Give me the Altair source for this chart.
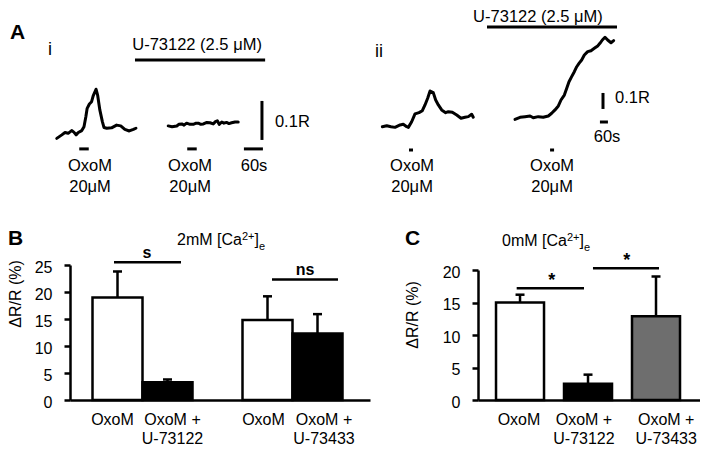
import altair as alt
import pandas as pd

FONT = "Liberation Sans"

# ---------------- Panel A(i): ratio traces (time s, ratio R) ----------------
ai_ctrl_t = [154, 170, 180, 190, 201, 208, 215, 222, 233, 240, 246, 250, 257, 264, 269, 278, 283, 290,
             298, 303, 312, 327, 343, 356, 369, 383, 396, 404]
ai_ctrl_r = [0.158, 0.167, 0.173, 0.171, 0.178, 0.174, 0.167, 0.173, 0.178, 0.188, 0.214, 0.235, 0.246,
             0.252, 0.267, 0.284, 0.269, 0.231, 0.201, 0.186, 0.184, 0.185, 0.192, 0.190, 0.181, 0.177,
             0.181, 0.184]
ai_drug_t = [506, 518, 533, 540, 549, 556, 564, 575, 585, 594, 601, 609, 617, 628, 638, 648, 655, 661,
             667, 675, 682, 690, 698, 706, 717, 727]
ai_drug_r = [0.190, 0.188, 0.190, 0.194, 0.195, 0.192, 0.197, 0.194, 0.194, 0.197, 0.197, 0.194, 0.195,
             0.199, 0.198, 0.195, 0.201, 0.203, 0.194, 0.200, 0.197, 0.199, 0.196, 0.198, 0.200, 0.200]

# ---------------- Panel A(ii) ----------------
aii_ctrl_t = [220, 253, 285, 315, 353, 377, 403, 415, 440, 465, 495, 520, 540, 560, 578, 602, 620, 640,
              665, 695, 715, 745, 778, 810, 840, 865, 890, 902]
aii_ctrl_r = [0.458, 0.464, 0.458, 0.454, 0.469, 0.473, 0.458, 0.454, 0.489, 0.538, 0.546, 0.558, 0.594,
              0.636, 0.681, 0.671, 0.625, 0.594, 0.563, 0.546, 0.552, 0.548, 0.531, 0.511, 0.517, 0.521,
              0.536, 0.517]
aii_drug_t = [1215, 1253, 1290, 1328, 1352, 1390, 1427, 1465, 1490, 1515, 1540, 1560, 1585, 1603, 1620,
              1640, 1660, 1678, 1695, 1715, 1735, 1760, 1785, 1810, 1835, 1852, 1870, 1890, 1910, 1935, 1955]
aii_drug_r = [0.504, 0.517, 0.521, 0.525, 0.514, 0.521, 0.517, 0.525, 0.542, 0.563, 0.588, 0.625, 0.656,
              0.698, 0.739, 0.771, 0.802, 0.833, 0.854, 0.875, 0.906, 0.927, 0.933, 0.948, 0.963, 0.979,
              1.0, 1.017, 1.0, 0.983, 0.996]

# ---------------- Panel B: 2 mM Ca ----------------
b_names = ["OxoM", "OxoM +\nU-73122", "OxoM", "OxoM +\nU-73433"]
b_pos = [1, 2, 4, 5]
b_label_x = [0.90, 2.10, 3.92, 5.13]
b_mean = [19.0, 3.3, 14.8, 12.3]
b_err = [4.8, 0.5, 4.4, 3.6]
b_fill = ["white", "black", "white", "black"]
b_ticks = [0, 5, 10, 15, 20, 25]

# ---------------- Panel C: 0 mM Ca ----------------
c_names = ["OxoM", "OxoM +\nU-73122", "OxoM +\nU-73433"]
c_pos = [1, 2, 3]
c_label_x = [0.985, 1.94, 3.15]
c_mean = [15.0, 2.5, 12.9]
c_err = [1.2, 1.4, 6.1]
c_fill = ["white", "black", "#6e6e6e"]
c_ticks = [0, 5, 10, 15, 20]

one = pd.DataFrame({"k": [0]})


def note(text, px, py, size=15, weight="normal", align="left", baseline="alphabetic", angle=None):
    kw = dict(text=text, fontSize=size, fontWeight=weight, align=align, baseline=baseline,
              color="black", font=FONT)
    if angle is not None:
        kw["angle"] = angle
    return alt.Chart(one).mark_text(**kw).encode(x=alt.value(px), y=alt.value(py))


def trace_panel(width, height, t_dom, r_dom, traces, hbars, vbars, labels_c, labels_l, letter):
    xs = alt.Scale(domain=t_dom, nice=False, zero=False)
    ys = alt.Scale(domain=r_dom, nice=False, zero=False)
    tr = pd.concat([pd.DataFrame({"t": t, "r": r, "trace": n}) for n, t, r in traces])
    lines = alt.Chart(tr).mark_line(color="black", strokeWidth=3, strokeJoin="round",
                                    strokeCap="round").encode(
        x=alt.X("t:Q", scale=xs, axis=None), y=alt.Y("r:Q", scale=ys, axis=None), detail="trace:N")
    hb = alt.Chart(pd.DataFrame(hbars, columns=["t0", "t1", "r"])).mark_rule(
        color="black", strokeWidth=3).encode(
        x=alt.X("t0:Q", scale=xs, axis=None), x2="t1:Q", y=alt.Y("r:Q", scale=ys, axis=None))
    vb = alt.Chart(pd.DataFrame(vbars, columns=["t", "r0", "r1"])).mark_rule(
        color="black", strokeWidth=3).encode(
        x=alt.X("t:Q", scale=xs, axis=None), y=alt.Y("r0:Q", scale=ys, axis=None), y2="r1:Q")
    lc = alt.Chart(pd.DataFrame(labels_c, columns=["t", "r", "txt", "size"])).mark_text(
        align="center", baseline="middle", color="black", font=FONT).encode(
        x=alt.X("t:Q", scale=xs, axis=None), y=alt.Y("r:Q", scale=ys, axis=None), text="txt:N",
        size=alt.Size("size:Q", scale=None))
    ll = alt.Chart(pd.DataFrame(labels_l, columns=["t", "r", "txt", "size"])).mark_text(
        align="left", baseline="middle", color="black", font=FONT).encode(
        x=alt.X("t:Q", scale=xs, axis=None), y=alt.Y("r:Q", scale=ys, axis=None), text="txt:N",
        size=alt.Size("size:Q", scale=None))
    layers = [lines, hb, vb, lc, ll]
    if letter is not None:
        lt = alt.Chart(pd.DataFrame([letter], columns=["t", "r", "txt"])).mark_text(
            align="left", baseline="middle", fontSize=21, fontWeight="bold", color="black",
            font=FONT).encode(x=alt.X("t:Q", scale=xs, axis=None),
                              y=alt.Y("r:Q", scale=ys, axis=None), text="txt:N")
        layers.append(lt)
    return alt.layer(*layers).properties(width=width, height=height)


# panel A(i): plot origin shares the left edge of panel B's plot (column alignment)
ai = trace_panel(
    283, 192, [195.8, 1089.5], [0, 0.4923],
    [("ctrl", ai_ctrl_t, ai_ctrl_r), ("drug", ai_drug_t, ai_drug_r)],
    [(225, 255, 0.131), (566, 596, 0.131), (745, 805, 0.131), (401, 812, 0.359)],
    [(802, 0.154, 0.254)],
    [(259, 0.0872, "OxoM", 16.5), (259, 0.0333, "20μM", 16.5), (575, 0.0872, "OxoM", 16.5),
     (575, 0.0333, "20μM", 16.5), (777, 0.0872, "60s", 16.5), (597, 0.397, "U-73122 (2.5 μM)", 16.5),
     (133, 0.385, "i", 18)],
    [(843, 0.199, "0.1R", 16.5)],
    (6, 0.428, "A"),
)

aii = trace_panel(
    346, 192, [0, 2595], [0, 1.2],
    [("ctrl", aii_ctrl_t, aii_ctrl_r), ("drug", aii_drug_t, aii_drug_r)],
    [(420, 450, 0.3125), (1478, 1508, 0.3125), (1852, 1912, 0.4875), (1005, 1980, 1.081)],
    [(1875, 0.569, 0.669)],
    [(443, 0.2125, "OxoM", 16.5), (443, 0.081, "20μM", 16.5), (1493, 0.2125, "OxoM", 16.5),
     (1493, 0.081, "20μM", 16.5), (1905, 0.394, "60s", 16.5), (1387, 1.145, "U-73122 (2.5 μM)", 16.5),
     (195, 0.925, "ii", 18)],
    [(1965, 0.6375, "0.1R", 16.5)],
    None,
)


def bar_panel(width, height, x_dom, y_dom, y_range, ticks, names, pos, label_x, mean, err, fills,
              half, cap, sig_lines, sig_text, sig_baseline, sig_size, notes):
    xs = alt.Scale(domain=x_dom, nice=False, zero=False)
    if y_range is None:
        ys = alt.Scale(domain=y_dom, nice=False)
    else:
        ys = alt.Scale(domain=y_dom, range=y_range, nice=False)
    df = pd.DataFrame({"pos": pos, "mean": mean, "err": err, "fill": fills})
    df["x0"] = df["pos"] - half
    df["x1"] = df["pos"] + half
    df["c0"] = df["pos"] - cap
    df["c1"] = df["pos"] + cap
    df["top"] = df["mean"] + df["err"]
    df["zero"] = 0.0
    xaxis = alt.Axis(labels=False, ticks=False, title=None, grid=False, domainColor="black",
                     domainWidth=2.5)
    yaxis = alt.Axis(values=ticks, tickCount=len(ticks), title=None, grid=False, tickSize=6,
                     tickWidth=2.5, tickColor="black", domainColor="black", domainWidth=2.5,
                     labelFontSize=16, labelColor="black", labelPadding=12, labelFont=FONT,
                     labelOverlap=False, labelOffset=2)
    X = lambda f: alt.X(f, type="quantitative", scale=xs, axis=xaxis)
    Y = lambda f: alt.Y(f, type="quantitative", scale=ys, axis=yaxis)
    base = alt.Chart(df)
    bars = base.mark_bar(stroke="black", strokeWidth=2.5).encode(
        x=X("x0"), x2="x1", y=Y("mean"), y2="zero", fill=alt.Fill("fill:N", scale=None))
    ebar = base.mark_rule(color="black", strokeWidth=2.5).encode(x=X("pos"), y=Y("mean"), y2="top")
    ecap = base.mark_rule(color="black", strokeWidth=2.5).encode(x=X("c0"), x2="c1", y=Y("top"))
    lab = alt.Chart(pd.DataFrame({"lx": label_x, "name": names})).mark_text(
        align="center", baseline="top", lineBreak="\n", lineHeight=19, fontSize=16,
        color="black", font=FONT).encode(x=X("lx"), y=alt.value(height + 12), text="name:N")
    sl = alt.Chart(pd.DataFrame(sig_lines, columns=["s0", "s1", "sy"])).mark_rule(
        color="black", strokeWidth=2.5).encode(x=X("s0"), x2="s1", y=Y("sy"))
    st = alt.Chart(pd.DataFrame(sig_text, columns=["tx", "ty", "txt"])).mark_text(
        align="center", baseline=sig_baseline, fontSize=sig_size, fontWeight="bold", color="black",
        font=FONT).encode(x=X("tx"), y=Y("ty"), text="txt:N")
    return alt.layer(bars, ebar, ecap, lab, sl, st, *notes).properties(width=width, height=height)


b = bar_panel(
    300, 135, [0.05, 6.05], [0, 25], None, b_ticks, b_names, b_pos, b_label_x, b_mean, b_err, b_fill,
    0.5, 0.09,
    [(0.93, 2.27, 25.5), (4.09, 5.41, 22.3)],
    [(1.59, 27.2, "s"), (4.75, 24.0, "ns")], "middle", 16,
    [note("B", -62, -20, size=21, weight="bold"),
     note("2mM [Ca", 107, -20, size=16), note("2+", 172, -25.5, size=11),
     note("]", 184.5, -20, size=16), note("e", 189, -15.5, size=11),
     note("ΔR/R (%)", -54, 29, size=16, align="center", baseline="middle", angle=270)],
)

c = bar_panel(
    222, 135, [0.382, 3.647], [0, 20], [135, 5], c_ticks, c_names, c_pos, c_label_x, c_mean, c_err,
    c_fill, 0.353, 0.066,
    [(0.951, 1.941, 17.2), (2.073, 3.044, 20.26)],
    [(1.466, 17.6, "*"), (2.569, 20.65, "*")], "alphabetic", 18,
    [note("C", -73, -20, size=21, weight="bold"),
     note("0mM [Ca", 24, -19, size=16), note("2+", 89, -24.5, size=11),
     note("]", 101.5, -19, size=16), note("e", 106, -14.5, size=11),
     note("ΔR/R (%)", -65, 50, size=16, align="center", baseline="middle", angle=270)],
)

top = alt.hconcat(ai, aii, spacing=0)
bottom = alt.hconcat(b, c, spacing=35)
chart = alt.vconcat(top, bottom, spacing=28, padding=0).configure(
    font=FONT).configure_view(stroke=None)

chart.save("out.html", embed_options={"renderer": "svg", "actions": False})
